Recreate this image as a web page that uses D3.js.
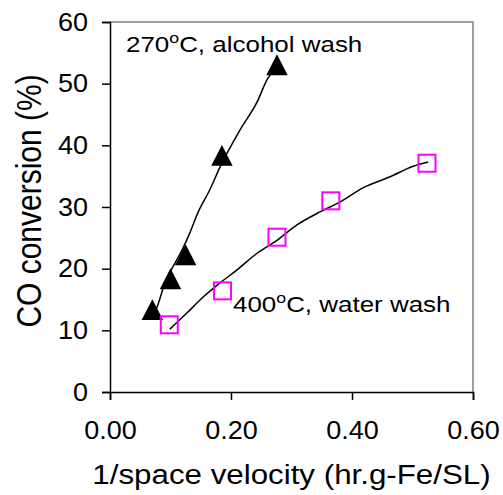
<!DOCTYPE html>
<html>
<head>
<meta charset="utf-8">
<script src="https://cdn.jsdelivr.net/npm/d3@7"></script>
<style>
  body { margin: 0; background: #fff; }
  text { font-family: "Liberation Sans", Arial, sans-serif; fill: #000; }
</style>
</head>
<body>
<script>
// measured points
var alcoholX = [0.07, 0.10, 0.125, 0.185, 0.276];
var alcoholY = [12.8, 17.8, 21.7, 37.8, 52.5];
var waterX = [0.098, 0.186, 0.276, 0.365, 0.524];
var waterY = [10.9, 16.4, 25.1, 31.0, 37.1];

// trend lines
var alcoholFitX = [0.074, 0.078, 0.091, 0.104, 0.119, 0.132, 0.145, 0.165, 0.182, 0.215, 0.243, 0.261, 0.276];
var alcoholFitY = [12.8, 13.8, 17.7, 20.3, 23.0, 25.8, 29.0, 32.8, 36.5, 42.5, 47.0, 50.9, 52.6];
var waterFitX = [0.099, 0.127, 0.154, 0.182, 0.210, 0.243, 0.276, 0.309, 0.347, 0.380, 0.418, 0.463, 0.501, 0.526];
var waterFitY = [10.2, 12.8, 15.4, 17.7, 19.8, 22.5, 24.6, 27.1, 29.2, 30.8, 33.1, 34.9, 36.6, 37.3];

var xTicks = [0, 0.2, 0.4, 0.6];
var yTicks = [0, 10, 20, 30, 40, 50, 60];

var screen = {width: 503, height: 495};
var plot = {left: 110, top: 22, right: 473, bottom: 392};
var stretch = 1.08; // tick text in the picture is a bit wide

var svg = d3.select("body")
            .append("svg")
            .attr("width", screen.width)
            .attr("height", screen.height);

var x = d3.scaleLinear().domain([0, 0.6]).range([plot.left, plot.right]);
var y = d3.scaleLinear().domain([0, 60]).range([plot.bottom, plot.top]);

// top / right border in grey
svg.append("path")
   .attr("d", "M" + plot.left + "," + plot.top + "H" + plot.right + "V" + plot.bottom)
   .attr("fill", "none")
   .attr("stroke", "#808080")
   .attr("stroke-width", 1.5);

var xAxis = svg.append("g")
               .attr("transform", "translate(0," + plot.bottom + ")")
               .call(d3.axisBottom(x).tickValues(xTicks).tickSize(8).tickPadding(21)
                       .tickFormat(d3.format(".2f")));

var yAxis = svg.append("g")
               .attr("transform", "translate(" + plot.left + ",0)")
               .call(d3.axisLeft(y).tickValues(yTicks).tickSize(8).tickPadding(14));

[xAxis, yAxis].forEach(function(g) {
  g.select(".domain").attr("stroke", "#000").attr("stroke-width", 1.5);
  g.selectAll(".tick line").attr("stroke", "#000").attr("stroke-width", 1.5);
  g.selectAll(".tick text").attr("font-size", "25px").attr("fill", "#000")
   .style("font-family", "'Liberation Sans', Arial, sans-serif");
});
xAxis.selectAll(".tick text").attr("transform", "scale(" + stretch + ",1)");
yAxis.selectAll(".tick text")
     .attr("x", -22 / stretch)
     .attr("transform", "scale(" + stretch + ",1)");

var line = d3.line()
             .x(function(d) {return x(d[0]);})
             .y(function(d) {return y(d[1]);})
             .curve(d3.curveMonotoneX);

svg.append("path")
   .datum(d3.zip(alcoholFitX, alcoholFitY))
   .attr("d", line)
   .attr("fill", "none")
   .attr("stroke", "#000")
   .attr("stroke-width", 1.5);

svg.append("path")
   .datum(d3.zip(waterFitX, waterFitY))
   .attr("d", line)
   .attr("fill", "none")
   .attr("stroke", "#000")
   .attr("stroke-width", 1.5);

// triangles
var tri = d3.symbol().type(d3.symbolTriangle).size(200);
svg.append("g")
   .selectAll("path")
   .data(d3.zip(alcoholX, alcoholY))
   .enter()
   .append("path")
   .attr("d", tri)
   .attr("transform", function(d) {return "translate(" + x(d[0]) + "," + y(d[1]) + ") scale(1,1.12)";})
   .attr("fill", "#000");

// squares
svg.append("g")
   .selectAll("rect")
   .data(d3.zip(waterX, waterY))
   .enter()
   .append("rect")
   .attr("x", function(d) {return x(d[0]) - 8.5;})
   .attr("y", function(d) {return y(d[1]) - 8.5;})
   .attr("width", 17)
   .attr("height", 17)
   .attr("fill", "none")
   .attr("stroke", "#ff00ff")
   .attr("stroke-width", 2);

// annotations
var note = function(tx, ty, before, after) {
  var t = svg.append("text")
             .attr("transform", "translate(" + tx + "," + ty + ") scale(1.18,1)")
             .attr("font-size", "22px");
  t.append("tspan").text(before);
  t.append("tspan").attr("dy", -9).attr("font-size", "15px").text("o");
  t.append("tspan").attr("dy", 9).text(after);
};
note(126, 52, "270", "C, alcohol wash");
note(233, 312, "400", "C, water wash");

// axis titles
svg.append("text")
   .attr("transform", "translate(" + (plot.left + plot.right) / 2 + ",484) scale(1.16,1)")
   .attr("text-anchor", "middle")
   .attr("font-size", "27px")
   .text("1/space velocity (hr.g-Fe/SL)");

svg.append("text")
   .attr("transform", "translate(41,201) scale(1.16,1) rotate(-90)")
   .attr("text-anchor", "middle")
   .attr("font-size", "30px")
   .text("CO conversion (%)");
</script>
</body>
</html>
